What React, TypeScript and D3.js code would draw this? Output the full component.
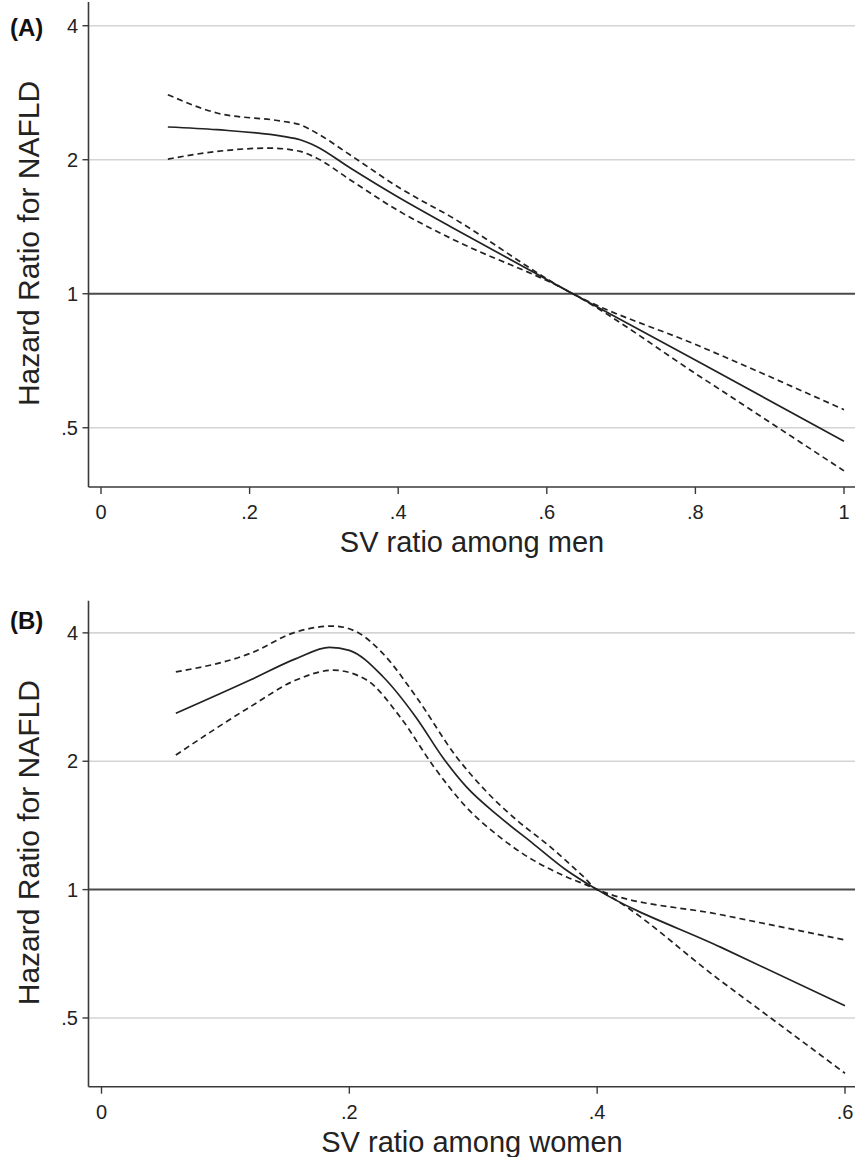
import React from "react";
import * as d3 from "d3";

// ---------- Panel A data (men) ----------
const menX = [0.09, 0.156, 0.245, 0.268, 0.29, 0.335, 0.402, 0.47, 0.635, 0.806, 1.0];
const menHR = [2.369, 2.336, 2.257, 2.218, 2.142, 1.918, 1.64, 1.416, 1.0, 0.701, 0.466];
const menUpperX = [0.09, 0.156, 0.245, 0.268, 0.29, 0.335, 0.402, 0.47, 0.635, 0.806, 1.0];
const menUpper = [2.8, 2.547, 2.439, 2.397, 2.297, 2.052, 1.728, 1.492, 1.0, 0.762, 0.549];
const menLowerX = [0.09, 0.156, 0.227, 0.268, 0.29, 0.335, 0.402, 0.47, 0.635, 0.806, 1.0];
const menLower = [2.007, 2.088, 2.124, 2.088, 2.018, 1.804, 1.53, 1.334, 1.0, 0.652, 0.4];

// ---------- Panel B data (women) ----------
const womenX = [0.06, 0.12, 0.157, 0.184, 0.2, 0.227, 0.254, 0.276, 0.2945, 0.321, 0.348, 0.375, 0.4, 0.5, 0.6];
const womenHR = [2.59, 3.1, 3.48, 3.7, 3.64, 3.16, 2.53, 2.03, 1.741, 1.483, 1.284, 1.112, 1.0, 0.732, 0.534];
const womenUpperX = [0.06, 0.12, 0.157, 0.187, 0.206, 0.227, 0.254, 0.286, 0.31, 0.335, 0.362, 0.389, 0.4, 0.5, 0.6];
const womenUpper = [3.24, 3.58, 4.02, 4.15, 4.02, 3.58, 2.83, 2.056, 1.705, 1.456, 1.261, 1.072, 1.0, 0.873, 0.762];
const womenLowerX = [0.06, 0.12, 0.157, 0.187, 0.214, 0.241, 0.268, 0.294, 0.321, 0.348, 0.375, 0.4, 0.5, 0.6];
const womenLower = [2.068, 2.683, 3.1, 3.27, 3.1, 2.54, 1.945, 1.565, 1.331, 1.174, 1.072, 1.0, 0.61, 0.371];

// ---------- ticks ----------
const yTickValues = [0.5, 1, 2, 4];
const yTickLabels = [".5", "1", "2", "4"];
const menXTicks = [0, 0.2, 0.4, 0.6, 0.8, 1];
const menXTickLabels = ["0", ".2", ".4", ".6", ".8", "1"];
const womenXTicks = [0, 0.2, 0.4, 0.6];
const womenXTickLabels = ["0", ".2", ".4", ".6"];

const FONT = "'Liberation Sans', Arial, Helvetica, sans-serif";

type PanelProps = {
  label: string;
  labelY: number;
  xTitle: string;
  xDomain: [number, number];
  xRange: [number, number];
  yDomain: [number, number];
  yRange: [number, number];
  xTicks: number[];
  xTickLabels: string[];
  est: [number[], number[]];
  upper: [number[], number[]];
  lower: [number[], number[]];
};

function Panel(p: PanelProps) {
  const x = d3.scaleLinear().domain(p.xDomain).range(p.xRange);
  const y = d3.scaleLog().base(2).domain(p.yDomain).range(p.yRange);
  const axisLeft = 88.5;
  const plotRight = 855;
  const bottom = p.yRange[0];
  const top = p.yRange[1];
  const line = d3
    .line<[number, number]>()
    .x((d) => x(d[0]))
    .y((d) => y(d[1]))
    .curve(d3.curveMonotoneX);
  const mk = (s: [number[], number[]]) => line(s[0].map((v, i) => [v, s[1][i]] as [number, number])) || "";
  return (
    <g>
      {/* grid lines */}
      {yTickValues.map((v) =>
        v === 1 ? null : (
          <line key={"g" + v} x1={axisLeft} x2={plotRight} y1={y(v)} y2={y(v)} stroke="#d4d4d4" strokeWidth={1.6} />
        )
      )}
      <line x1={axisLeft} x2={plotRight} y1={y(1)} y2={y(1)} stroke="#4a4a4a" strokeWidth={2} />
      {/* axes */}
      <line x1={axisLeft} x2={axisLeft} y1={top - 12} y2={bottom} stroke="#3a3a3a" strokeWidth={1.6} />
      <line x1={axisLeft} x2={plotRight} y1={bottom} y2={bottom} stroke="#3a3a3a" strokeWidth={1.6} />
      {yTickValues.map((v, i) => (
        <g key={"yt" + v}>
          <line x1={axisLeft - 6} x2={axisLeft} y1={y(v)} y2={y(v)} stroke="#3a3a3a" strokeWidth={1.4} />
          <text x={78} y={y(v)} dy="0.36em" textAnchor="end" fontSize={20} fontFamily={FONT} fill="#222">
            {yTickLabels[i]}
          </text>
        </g>
      ))}
      {p.xTicks.map((v, i) => (
        <g key={"xt" + v}>
          <line x1={x(v)} x2={x(v)} y1={bottom} y2={bottom + 7} stroke="#3a3a3a" strokeWidth={1.4} />
          <text x={x(v)} y={bottom + 32} textAnchor="middle" fontSize={20} fontFamily={FONT} fill="#222">
            {p.xTickLabels[i]}
          </text>
        </g>
      ))}
      {/* curves */}
      <path d={mk(p.upper)} fill="none" stroke="#222" strokeWidth={1.7} strokeDasharray="6,4" />
      <path d={mk(p.lower)} fill="none" stroke="#222" strokeWidth={1.7} strokeDasharray="6,4" />
      <path d={mk(p.est)} fill="none" stroke="#222" strokeWidth={1.7} />
      {/* titles */}
      <text x={472} y={bottom + 65} textAnchor="middle" fontSize={29} fontFamily={FONT} fill="#222">
        {p.xTitle}
      </text>
      <text
        transform={`translate(39, ${(top + bottom) / 2 - 7}) rotate(-90)`}
        textAnchor="middle"
        fontSize={30}
        fontFamily={FONT}
        fill="#222"
      >
        Hazard Ratio for NAFLD
      </text>
      <text x={10} y={p.labelY} fontSize={24} fontWeight="bold" fontFamily={FONT} fill="#111">
        {p.label}
      </text>
    </g>
  );
}

export default function App() {
  return (
    <svg
      width={855}
      height={1157}
      style={{ position: "absolute", left: 0, top: 0, background: "#fff" }}
    >
      <rect width={855} height={1157} fill="#fff" />
      <Panel
        label="(A)"
        labelY={36}
        xTitle="SV ratio among men"
        xDomain={[0, 1]}
        xRange={[101, 844]}
        yDomain={[0.368, 4.25]}
        yRange={[487, 14]}
        xTicks={menXTicks}
        xTickLabels={menXTickLabels}
        est={[menX, menHR]}
        upper={[menUpperX, menUpper]}
        lower={[menLowerX, menLower]}
      />
      <Panel
        label="(B)"
        labelY={629}
        xTitle="SV ratio among women"
        xDomain={[0, 0.6]}
        xRange={[101.5, 845]}
        yDomain={[0.345, 4.46]}
        yRange={[1086.7, 612.7]}
        xTicks={womenXTicks}
        xTickLabels={womenXTickLabels}
        est={[womenX, womenHR]}
        upper={[womenUpperX, womenUpper]}
        lower={[womenLowerX, womenLower]}
      />
    </svg>
  );
}
